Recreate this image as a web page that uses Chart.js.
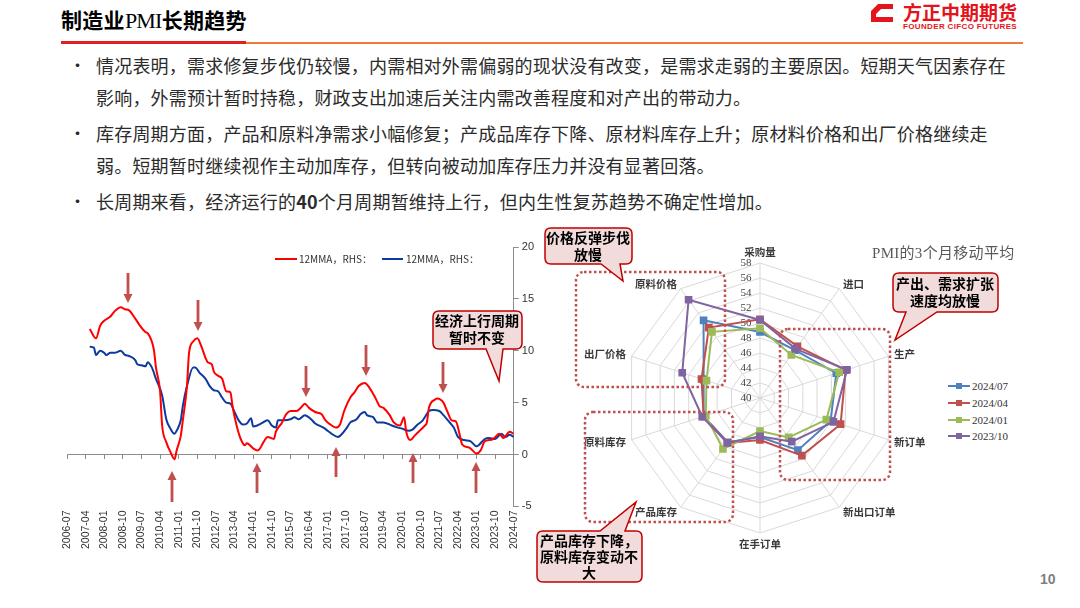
<!DOCTYPE html>
<html>
<head>
<meta charset="utf-8">
<script src="https://cdn.jsdelivr.net/npm/chart.js@4.4.1/dist/chart.umd.min.js"></script>
<style>
  body { margin: 0; background: #fff; }
  #page { position: relative; width: 1080px; height: 608px; overflow: hidden;
          font-family: "Noto Sans CJK SC", "Noto Sans", sans-serif; color: #262626; }
  .title { position: absolute; left: 61px; top: 4px; font-size: 21px; font-weight: 700; color: #000; line-height: 30px; letter-spacing: 0.3px; }
  .title .pmi { font-family: "Liberation Serif", serif; font-weight: 400; font-size: 22px; letter-spacing: -0.8px; }
  .bar-red { position: absolute; left: 61px; top: 41px; width: 185px; height: 3px; background: #E02020; }
  .bar-org { position: absolute; left: 246px; top: 42px; width: 777px; height: 2px; background: #F07A3A; }
  .logo1 { position: absolute; left: 903px; top: 0px; font-size: 19px; font-weight: 700; color: #E3141B; line-height: 24px; }
  .logo2 { position: absolute; left: 903px; top: 22px; font-size: 8px; font-weight: 700; color: #E3141B; line-height: 10px;
           font-family: "Liberation Sans", sans-serif; letter-spacing: 0.35px; }
  .line { position: absolute; left: 96px; font-size: 18px; line-height: 24px; letter-spacing: 0.2px; white-space: nowrap; color: #2b2b2b; }
  .dot { position: absolute; left: 69px; font-size: 17px; line-height: 24px; }
  canvas { position: absolute; }
  #lineChart { left: 0px; top: 232px; }
  #radarChart { left: 560px; top: 243px; }
  .lg { position: absolute; font-size: 10px; line-height: 12px; color: #333; white-space: nowrap; }
  .rtitle { position: absolute; left: 872px; top: 243px; font-size: 15px; line-height: 20px; color: #595959;
            font-family: "Liberation Serif", "Noto Sans CJK SC", serif; letter-spacing: 0.3px; }
  .rlg { position: absolute; left: 972px; font-size: 11px; line-height: 14px; color: #333; font-family: "Liberation Serif", serif; }
  .pageno { position: absolute; left: 1040px; top: 571px; font-size: 14px; font-weight: 700; color: #7F7F7F; font-family: "Liberation Sans", sans-serif; }
  #overlay { position: absolute; left: 0; top: 0; }
  .ct { font-size: 14px; font-weight: 700; fill: #000; text-anchor: middle; dominant-baseline: middle; font-family: "Noto Sans CJK SC", sans-serif; }
</style>
</head>
<body>
<div id="page">
  <div class="title">制造业<span class="pmi">PMI</span>长期趋势</div>
  <div class="bar-red"></div><div class="bar-org"></div>
  <div class="logo1">方正中期期货</div>
  <div class="logo2">FOUNDER CIFCO FUTURES</div>

  <div class="dot" style="top:53px">•</div>
  <div class="line" style="top:53px">情况表明，需求修复步伐仍较慢，内需相对外需偏弱的现状没有改变，是需求走弱的主要原因。短期天气因素存在</div>
  <div class="line" style="top:85px">影响，外需预计暂时持稳，财政支出加速后关注内需改善程度和对产出的带动力。</div>
  <div class="dot" style="top:121px">•</div>
  <div class="line" style="top:121px">库存周期方面，产品和原料净需求小幅修复；产成品库存下降、原材料库存上升；原材料价格和出厂价格继续走</div>
  <div class="line" style="top:153px">弱。短期暂时继续视作主动加库存，但转向被动加库存压力并没有显著回落。</div>
  <div class="dot" style="top:189px">•</div>
  <div class="line" style="top:189px">长周期来看，经济运行的<b>40</b>个月周期暂维持上行，但内生性复苏趋势不确定性增加。</div>

  <canvas id="lineChart" width="560" height="332"></canvas>
  <canvas id="radarChart" width="400" height="310"></canvas>

  <div class="lg" style="left:299px;top:253px">12MMA，RHS：</div>
  <div class="lg" style="left:406px;top:253px">12MMA，RHS：</div>

  <div class="rtitle">PMI的3个月移动平均</div>
  <div class="rlg" style="top:379px">2024/07</div>
  <div class="rlg" style="top:396px">2024/04</div>
  <div class="rlg" style="top:413px">2024/01</div>
  <div class="rlg" style="top:429px">2023/10</div>

  <div class="pageno">10</div>

  <svg id="overlay" width="1080" height="608"></svg>
</div>

<script>
// 左图：两条12个月移动平均线（月份 + 数值）
const redDates = ['2007-06','2007-09','2007-11','2008-01','2008-04','2008-06','2008-09','2008-11','2009-01','2009-04',
  '2009-06','2009-09','2009-10','2010-01','2010-02','2010-04','2010-05','2010-07','2010-09','2010-11',
  '2010-12','2011-02','2011-03','2011-05','2011-06','2011-08','2011-10','2011-12','2012-02','2012-03',
  '2012-05','2012-06','2012-08','2012-10','2012-12','2013-02','2013-03','2013-05','2013-07','2013-09',
  '2013-10','2014-01','2014-03','2014-04','2014-06','2014-08','2014-11','2014-12','2015-03','2015-05',
  '2015-07','2015-10','2015-12','2016-02','2016-04','2016-07','2016-10','2016-12','2017-03','2017-05',
  '2017-07','2017-09','2017-12','2018-02','2018-04','2018-07','2018-09','2018-12','2019-02','2019-04',
  '2019-07','2019-09','2019-12','2020-02','2020-03','2020-05','2020-07','2020-09','2020-12','2021-01',
  '2021-02','2021-05','2021-06','2021-09','2021-11','2022-01','2022-03','2022-05','2022-06','2022-09',
  '2022-10','2023-01','2023-03','2023-05','2023-07','2023-09','2023-12','2024-02','2024-05','2024-07'];
const redValues = [12.1,11.2,12.4,12.9,13.3,13.8,14.2,14.0,13.9,13.1,
  12.5,11.8,11.7,10.1,8.4,6.1,2.8,1.2,0.25,-0.45,
  0.4,1.8,3.3,6.6,9.8,10.9,11.2,10.4,9.3,8.9,
  8.7,8.0,7.6,7.3,6.1,6.0,4.7,2.8,1.5,0.9,
  1.1,0.6,0.4,0.5,1.2,1.7,1.5,2.2,3.1,3.9,
  4.2,4.2,4.5,4.9,4.5,4.1,3.9,3.3,2.8,2.6,
  2.9,4.2,5.5,6.0,6.6,6.9,6.5,5.5,4.7,4.5,
  3.8,3.1,2.8,3.6,2.2,1.4,1.8,2.2,2.8,3.1,
  4.5,5.3,5.4,5.0,4.1,3.3,3.2,1.8,1.0,0.7,
  0.6,0.1,0.4,1.3,1.4,1.5,2.0,1.6,2.2,2.0];

const blueDates = ['2007-06','2007-08','2007-09','2007-11','2008-01','2008-02','2008-04','2008-06','2008-09','2008-11',
  '2009-01','2009-04','2009-05','2009-07','2009-09','2009-10','2009-12','2010-02','2010-05','2010-07',
  '2010-09','2010-11','2010-12','2011-02','2011-03','2011-05','2011-08','2011-09','2011-11','2012-02',
  '2012-04','2012-06','2012-08','2012-10','2012-12','2013-02','2013-04','2013-06','2013-08','2013-10',
  '2013-12','2014-01','2014-03','2014-05','2014-08','2014-10','2014-12','2015-01','2015-04','2015-07',
  '2015-09','2015-11','2016-02','2016-05','2016-07','2016-11','2017-01','2017-03','2017-06','2017-07',
  '2017-10','2017-12','2018-03','2018-05','2018-07','2018-08','2018-11','2019-01','2019-04','2019-08',
  '2019-11','2020-01','2020-04','2020-06','2020-08','2020-11','2020-12','2021-02','2021-04','2021-07',
  '2021-09','2021-12','2022-02','2022-04','2022-07','2022-10','2023-01','2023-02','2023-05','2023-07',
  '2023-10','2024-01','2024-03','2024-05','2024-07'];
const blueValues = [10.4,10.3,9.6,10.0,9.8,9.6,9.8,9.8,10.0,9.6,
  9.5,9.1,8.7,8.6,8.5,8.9,8.4,7.3,5.7,3.4,
  2.5,2.0,2.3,3.3,4.7,6.6,8.4,8.4,7.9,7.3,
  6.6,6.2,6.1,5.5,5.0,4.9,4.1,3.3,2.9,3.0,
  3.5,2.7,2.8,3.0,3.3,2.8,2.6,3.3,3.3,3.4,
  3.6,3.4,3.8,3.4,3.0,2.6,2.3,2.0,1.7,1.8,
  2.5,3.1,3.4,3.9,4.1,3.8,3.6,3.1,3.1,2.8,
  2.6,2.5,2.3,2.4,2.8,3.3,3.6,4.2,4.3,4.2,
  3.8,3.1,2.6,1.7,1.4,1.3,0.8,0.9,1.5,1.6,
  1.5,2.0,1.7,1.9,1.7];

const xTickLabels = ['2006-07','2007-04','2008-01','2008-10','2009-07','2010-04','2011-01','2011-10','2012-07',
  '2013-04','2014-01','2014-10','2015-07','2016-04','2017-01','2017-10','2018-07','2019-04','2020-01',
  '2020-10','2021-07','2022-04','2023-01','2023-10','2024-07'];

// 右图：PMI分项 3个月移动平均
const radarAxes = ['采购量','进口','生产','新订单','新出口订单','在手订单','产品库存','原料库存','出厂价格','原料价格'];
const pmi202407 = [48.8, 47.9, 50.7, 49.9, 48.6, 45.2, 47.3, 47.9, 47.9, 52.8];
const pmi202404 = [50.5, 48.5, 52.0, 51.3, 49.5, 45.6, 47.4, 47.9, 48.2, 51.6];
const pmi202401 = [49.3, 47.1, 51.1, 49.3, 46.5, 44.4, 48.4, 47.6, 47.5, 50.9];
const pmi202310 = [50.4, 48.1, 52.2, 50.3, 47.2, 45.1, 47.4, 48.1, 50.9, 56.2];

// 月份 -> 自2006-07起的月数
function monthIndex(s) {
  const p = s.split('-');
  return (parseInt(p[0]) - 2006) * 12 + parseInt(p[1]) - 7;
}
function toPoints(dates, vals) {
  return dates.map((d, i) => ({ x: monthIndex(d), y: vals[i] }));
}

const lineCfg = {
  type: 'line',
  data: {
    datasets: [
      { label: '12MMA，RHS：', data: toPoints(redDates, redValues), borderColor: '#FF0000', borderWidth: 2,
        pointRadius: 0, cubicInterpolationMode: 'monotone' },
      { label: '12MMA，RHS：', data: toPoints(blueDates, blueValues), borderColor: '#0D3A9E', borderWidth: 2,
        pointRadius: 0, cubicInterpolationMode: 'monotone' }
    ]
  },
  options: {
    responsive: false,
    animation: false,
    layout: { padding: { left: 67, right: 23, top: 15, bottom: 11 } },
    plugins: { legend: { display: false }, tooltip: { enabled: false } },
    scales: {
      x: {
        type: 'linear', min: 0, max: 216,
        grid: { display: false, drawTicks: false },
        border: { display: false },
        ticks: {
          stepSize: 9, autoSkip: false, maxRotation: 90, minRotation: 90, padding: 4,
          color: '#333', font: { size: 10.5, family: 'Liberation Sans' },
          callback: v => xTickLabels[v / 9]
        }
      },
      x2: {
        type: 'linear', min: 0, max: 216, position: { y: 0 },
        grid: { drawOnChartArea: false, drawTicks: true, tickLength: 4, color: '#8C8C8C' },
        border: { color: '#8C8C8C' },
        ticks: { stepSize: 9, display: false }
      },
      y: {
        position: 'right', min: -5, max: 20,
        grid: { drawOnChartArea: false, tickLength: 5, color: '#8C8C8C' },
        border: { color: '#8C8C8C' },
        ticks: { stepSize: 5, padding: 3, color: '#333', font: { size: 11, family: 'Liberation Sans' } }
      }
    }
  }
};
new Chart(document.getElementById('lineChart'), lineCfg);

// 径向刻度标签画在纵轴左侧，轴名按Excel样式摆放
const radarText = {
  id: 'radarText',
  beforeDatasetsDraw(chart) {
    const r = chart.scales.r;
    const ctx = chart.ctx;
    ctx.save();
    ctx.font = '11px "Liberation Serif"';
    ctx.fillStyle = '#404040';
    ctx.textAlign = 'center';
    ctx.textBaseline = 'middle';
    r.ticks.forEach(t => {
      ctx.fillText(String(t.value), r.xCenter - 14, r.yCenter - r.getDistanceFromCenterForValue(t.value));
    });
    ctx.font = 'bold 10.5px "Noto Sans CJK SC"';
    ctx.fillStyle = '#3a3a3a';
    chart.data.labels.forEach((lab, i) => {
      const p = r.getPointPosition(i, r.drawingArea + 6);
      ctx.textAlign = p.x < r.xCenter - 1 ? 'right' : (p.x > r.xCenter + 1 ? 'left' : 'center');
      ctx.textBaseline = i === 0 ? 'bottom' : (i === 5 ? 'top' : 'middle');
      ctx.fillText(lab, p.x, p.y);
    });
    ctx.restore();
  }
};

function radarSet(label, data, color, order) {
  return { label, data, borderColor: color, backgroundColor: color, borderWidth: 2, fill: false,
           pointStyle: 'rect', pointRadius: 4, pointBackgroundColor: color, pointBorderColor: color, order };
}

new Chart(document.getElementById('radarChart'), {
  type: 'radar',
  data: {
    labels: radarAxes,
    datasets: [
      radarSet('2024/07', pmi202407, '#4F81BD', 4),
      radarSet('2024/04', pmi202404, '#C0504D', 3),
      radarSet('2024/01', pmi202401, '#9BBB59', 2),
      radarSet('2023/10', pmi202310, '#8064A2', 1)
    ]
  },
  options: {
    responsive: false,
    animation: false,
    layout: { padding: { left: 65, right: 65, top: 20, bottom: 20 } },
    plugins: { legend: { display: false }, tooltip: { enabled: false } },
    scales: {
      r: {
        min: 40, max: 58,
        ticks: { stepSize: 2, display: false },
        grid: { color: '#D9D9D9' },
        angleLines: { color: '#D9D9D9' },
        pointLabels: { display: false }
      }
    }
  },
  plugins: [radarText]
});

// 叠加标注：箭头、标注框、虚线框、图例线
const NS = 'http://www.w3.org/2000/svg';
const svg = document.getElementById('overlay');
function el(tag, attrs, text) {
  const e = document.createElementNS(NS, tag);
  for (const k in attrs) e.setAttribute(k, attrs[k]);
  if (text) e.textContent = text;
  svg.appendChild(e);
  return e;
}

// logo 图标
el('path', { d: 'M878,4 H893 V9 H881 L876,14 V17 H893 V22 H871 V11 Z', fill: '#E3141B' });

// 左图图例线
el('line', { x1: 275, y1: 259, x2: 297, y2: 259, stroke: '#FF0000', 'stroke-width': 2 });
el('line', { x1: 382, y1: 259, x2: 403, y2: 259, stroke: '#0D3A9E', 'stroke-width': 2 });

// 右图图例
[['#4F81BD', 386], ['#C0504D', 403], ['#9BBB59', 420], ['#8064A2', 436]].forEach(([c, y]) => {
  el('line', { x1: 948, y1: y, x2: 970, y2: y, stroke: c, 'stroke-width': 2 });
  el('rect', { x: 956, y: y - 3, width: 6, height: 6, fill: c });
});

// 箭头
const arrowColor = '#C0504D';
const downArrows = [[128, 273, 303], [198, 300, 331], [306, 366, 397], [366, 345, 376], [443, 362, 393]];
const upArrows = [[172, 471, 502], [257, 463, 493], [336, 447, 477], [413, 453, 483], [476, 462, 493]];
downArrows.forEach(([x, y1, y2]) => {
  el('rect', { x: x - 1.4, y: y1, width: 2.8, height: y2 - y1 - 8, fill: arrowColor });
  el('polygon', { points: `${x - 4.5},${y2 - 9} ${x + 4.5},${y2 - 9} ${x},${y2}`, fill: arrowColor });
});
upArrows.forEach(([x, y1, y2]) => {
  el('rect', { x: x - 1.4, y: y1 + 8, width: 2.8, height: y2 - y1 - 8, fill: arrowColor });
  el('polygon', { points: `${x - 4.5},${y1 + 9} ${x + 4.5},${y1 + 9} ${x},${y1}`, fill: arrowColor });
});

// 虚线框
[[576, 272, 149, 115], [585, 412, 148, 110], [780, 329, 110, 151]].forEach(([x, y, w, h]) => {
  el('rect', { x, y, width: w, height: h, rx: 8, fill: 'none', stroke: '#C0504D',
               'stroke-width': 2.5, 'stroke-dasharray': '2.5 2.5' });
});

// 标注框
const calloutStyle = { fill: '#F2DCDB', stroke: '#C00000', 'stroke-width': 1.5 };
el('path', Object.assign({ d: 'M439,311 H516 Q522,311 522,317 V343 Q522,349 516,349 H503 L499,381 L486,349 H439 Q433,349 433,343 V317 Q433,311 439,311 Z' }, calloutStyle));
el('text', { x: 477, y: 322, class: 'ct' }, '经济上行周期');
el('text', { x: 477, y: 339, class: 'ct' }, '暂时不变');

el('path', Object.assign({ d: 'M551,228 H626 Q632,228 632,234 V258 Q632,264 626,264 H620 L623,281 L601,264 H551 Q545,264 545,258 V234 Q545,228 551,228 Z' }, calloutStyle));
el('text', { x: 588, y: 239, class: 'ct' }, '价格反弹步伐');
el('text', { x: 588, y: 256, class: 'ct' }, '放慢');

el('path', Object.assign({ d: 'M899,273 H992 Q998,273 998,279 V306 Q998,312 992,312 H937 L895,340 L906,312 H899 Q893,312 893,306 V279 Q893,273 899,273 Z' }, calloutStyle));
el('text', { x: 945, y: 285, class: 'ct' }, '产出、需求扩张');
el('text', { x: 945, y: 302, class: 'ct' }, '速度均放慢');

el('path', Object.assign({ d: 'M543,531 H600 L636,502 L625,531 H636 Q642,531 642,537 V576 Q642,582 636,582 H543 Q537,582 537,576 V537 Q537,531 543,531 Z' }, calloutStyle));
el('text', { x: 589, y: 542, class: 'ct' }, '产品库存下降，');
el('text', { x: 589, y: 558, class: 'ct' }, '原料库存变动不');
el('text', { x: 589, y: 574, class: 'ct' }, '大');
</script>
</body>
</html>
